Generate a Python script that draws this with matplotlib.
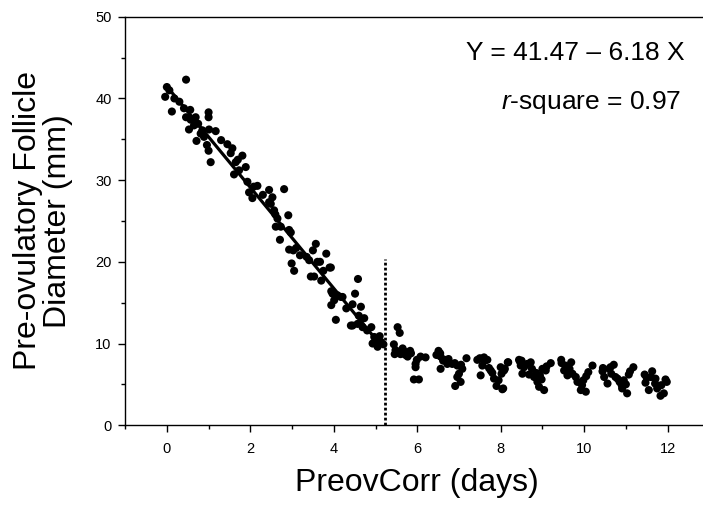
import matplotlib
matplotlib.use("Agg")
import matplotlib.pyplot as plt
from matplotlib.ticker import MultipleLocator

plt.rcParams['font.family'] = ['Liberation Sans', 'DejaVu Sans']
plt.rcParams['mathtext.fontset'] = 'custom'
plt.rcParams['mathtext.rm'] = 'Liberation Sans'
plt.rcParams['mathtext.it'] = 'Liberation Sans:italic'

# follicle diameter (mm) vs days
days = [0.00, 0.06, -0.04, 0.12, 0.46, 0.18, 0.41, 0.56, 0.46, 0.57, 0.69, 0.53, 0.65,
        1.00, 1.00, 0.81, 0.71, 0.89, 1.01, 1.17, 0.96, 1.00, 1.05, 1.45, 1.57, 1.53,
        1.81, 1.65, 1.61, 1.73, 1.89, 1.93, 1.97, 2.08, 2.17, 2.05, 2.45, 2.53, 2.81,
        2.49, 2.57, 2.65, 2.91, 2.61, 2.73, 2.93, 2.45, 2.71, 2.97, 2.93, 3.03, 3.19,
        2.99, 3.05, 3.50, 3.57, 3.41, 3.61, 3.67, 3.82, 3.90, 3.45, 3.53, 3.70, 3.94,
        4.09, 4.17, 4.01, 3.94, 4.05, 4.41, 3.93, 3.97, 4.21, 4.58, 4.51, 4.45, 4.65,
        4.45, 4.57, 4.73, 4.69, 4.90, 4.97, 4.93, 5.05, 5.13, 5.19, 5.01,
        0.30, 0.75, 0.85, 1.30, 1.70, 2.30, 2.60, 3.10, 3.35, 3.75, 4.30, 4.60, 4.80, 5.10,
        5.44, 5.53, 5.58, 5.46, 5.60, 5.65, 5.72, 5.83, 5.77, 5.92, 6.04, 5.96, 5.99,
        6.08, 6.20, 5.96, 6.51, 6.46, 6.56, 6.66, 6.56, 6.72, 6.84, 6.96, 7.08, 7.00,
        6.96, 7.04, 6.91, 7.18, 7.44, 7.60, 7.68, 7.56, 7.52, 7.76, 7.84, 7.90, 8.04,
        8.00, 8.10, 8.02, 8.18, 8.44, 8.48, 8.52, 8.64, 8.08, 8.17, 8.06,
        8.46, 8.72, 8.56, 8.68, 8.80, 8.88, 8.92, 9.04, 9.00, 9.08, 9.20, 8.94,
        9.46, 9.69, 9.52, 9.60, 9.72, 9.84, 9.92, 10.04, 9.98, 10.10, 10.20,
        10.44, 10.48, 10.56, 10.63, 10.71, 10.75, 10.85, 10.91, 11.03, 10.95, 11.07,
        11.18, 11.45, 11.63, 11.47, 11.55, 11.71, 11.75, 11.83, 11.91, 11.98,
        5.48, 5.55, 5.70, 5.85, 6.55, 6.62, 6.75, 6.90, 7.05, 7.50, 7.62, 7.72, 7.80,
        7.95, 8.50, 8.60, 8.75, 8.85, 8.98, 9.10, 9.45, 9.55, 9.65, 9.80, 9.95, 10.05,
        10.45, 10.60, 10.65, 10.80, 10.90, 11.00, 11.10, 11.50, 11.60, 11.70, 11.85, 11.95]
diameter = [41.4, 41.0, 40.2, 38.4, 42.3, 40.0, 38.8, 38.6, 37.7, 37.4, 37.7, 36.2, 36.7,
            38.3, 37.7, 35.7, 34.8, 35.3, 36.2, 36.0, 34.3, 33.6, 32.2, 34.4, 33.9, 33.3,
            33.0, 32.2, 30.7, 31.2, 31.6, 29.8, 28.5, 29.2, 29.3, 27.8, 28.8, 27.9, 28.9,
            27.1, 26.3, 25.3, 25.7, 24.3, 24.3, 23.9, 27.3, 22.7, 23.6, 21.5, 21.4, 20.8,
            19.8, 18.9, 21.4, 22.2, 20.2, 20.0, 20.0, 21.0, 19.3, 18.2, 18.2, 17.7, 16.4,
            15.9, 15.7, 15.3, 14.7, 12.9, 12.2, 19.3, 16.1, 15.7, 17.9, 16.1, 14.8, 14.5,
            12.2, 12.4, 13.1, 12.0, 12.0, 10.8, 10.0, 9.6, 10.2, 9.9, 10.4,
            39.6, 36.9, 36.1, 34.9, 32.5, 28.2, 25.8, 21.7, 20.6, 18.9, 14.3, 13.4, 11.6, 10.9,
            9.9, 12.0, 11.3, 8.7, 8.7, 9.4, 8.6, 9.1, 8.4, 5.6, 5.6, 7.5, 8.0,
            8.4, 8.3, 7.1, 9.1, 8.6, 8.4, 8.0, 6.9, 7.5, 7.5, 7.3, 6.9, 6.3,
            5.9, 5.3, 4.8, 8.2, 8.0, 8.3, 8.0, 7.3, 6.1, 6.7, 5.7, 4.8, 4.4,
            7.1, 6.9, 6.3, 7.7, 8.0, 7.3, 6.3, 7.5, 6.7, 7.7, 4.5,
            7.8, 7.7, 7.1, 6.2, 5.9, 5.3, 4.7, 4.3, 6.9, 6.7, 7.6, 6.1,
            7.6, 7.7, 6.7, 6.1, 6.3, 5.3, 4.3, 4.1, 5.5, 6.5, 7.3,
            6.6, 5.9, 5.1, 7.1, 7.4, 5.9, 5.3, 4.5, 3.9, 5.5, 6.2,
            7.1, 6.2, 6.6, 5.2, 4.3, 5.7, 4.5, 3.6, 3.9, 5.3,
            9.2, 8.9, 9.0, 8.8, 8.8, 7.9, 8.1, 7.6, 7.4, 8.2, 7.9, 7.0, 6.4,
            5.5, 7.9, 7.4, 6.9, 6.4, 5.6, 7.2, 8.0, 7.3, 6.9, 5.9, 4.9, 6.0,
            7.0, 6.9, 6.3, 5.7, 4.9, 5.0, 6.6, 5.8, 5.9, 5.1, 4.9, 5.6]

intercept = 41.47
slope = -6.18
fit_days = [0.0, 5.0]
cutoff_day = 5.23
cutoff_top = 20.3

fig = plt.figure(figsize=(7.03, 5.08), dpi=100)
ax = fig.add_axes([0.178, 0.163, 0.831, 0.804])

ax.scatter(days, diameter, s=34, color='black', edgecolors='none', zorder=3)
ax.plot(fit_days, [intercept + slope * d for d in fit_days], color='black', lw=2.3, zorder=4)
ax.plot([cutoff_day, cutoff_day], [0, cutoff_top], color='black', lw=2,
        linestyle=(0, (1, 0.8)), zorder=2)

ax.set_xlim(-1, 13)
ax.set_ylim(0, 50)
ax.xaxis.set_major_locator(MultipleLocator(2))
ax.xaxis.set_minor_locator(MultipleLocator(1))
ax.yaxis.set_major_locator(MultipleLocator(10))
ax.yaxis.set_minor_locator(MultipleLocator(5))
ax.tick_params(which='major', direction='out', length=4.8, width=1, labelsize=10.5)
ax.tick_params(which='minor', direction='out', length=3.1, width=1)
ax.tick_params(axis='x', which='major', pad=7)
ax.tick_params(axis='y', which='major', pad=5)
for sp in ax.spines.values():
    sp.set_linewidth(1)

ax.set_xlabel('PreovCorr (days)', fontsize=23)
ax.xaxis.set_label_coords(0.5, -0.105)
ax.set_ylabel('Pre-ovulatory Follicle\nDiameter (mm)', fontsize=23, linespacing=1.0)
ax.yaxis.set_label_coords(-0.09, 0.5)

ax.text(0.957, 0.893, 'Y = 41.47 \u2013 6.18 X', transform=ax.transAxes,
        ha='right', va='baseline', fontsize=19)
ax.text(0.952, 0.773, '$\\mathit{r}$-square = 0.97', transform=ax.transAxes,
        ha='right', va='baseline', fontsize=19)

fig.savefig('out.png', dpi=100)
